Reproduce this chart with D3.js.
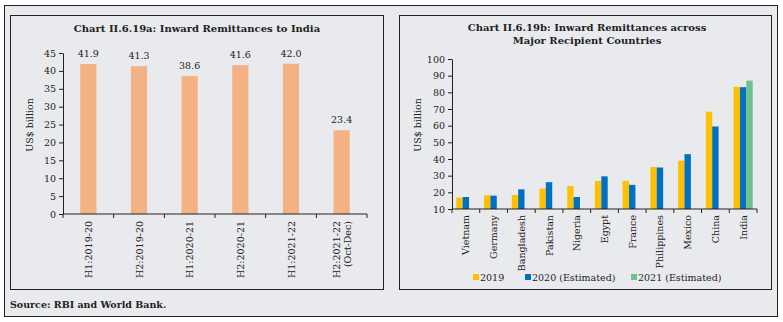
<!DOCTYPE html>
<html>
<head>
<meta charset="utf-8">
<script src="https://cdn.jsdelivr.net/npm/d3@7"></script>
<style>
  body { margin: 0; background: #fff; }
  svg { display: block; }
  text { font-family: "DejaVu Serif", "Liberation Serif", serif; fill: #222; }
</style>
</head>
<body>
<div id="chart"></div>
<script>
// left panel data
var periods = ["H1:2019-20", "H2:2019-20", "H1:2020-21", "H2:2020-21", "H1:2021-22", "H2:2021-22|(Oct-Dec)"];
var inward = [41.9, 41.3, 38.6, 41.6, 42.0, 23.4];
var leftTicks = [0, 5, 10, 15, 20, 25, 30, 35, 40, 45];

// right panel data
var countries = ["Vietnam", "Germany", "Bangladesh", "Pakistan", "Nigeria", "Egypt", "France", "Philippines", "Mexico", "China", "India"];
var seriesNames = ["2019", "2020 (Estimated)", "2021 (Estimated)"];
var v2019 = [16.9, 18.2, 18.4, 22.3, 23.8, 26.8, 26.9, 35.2, 39.0, 68.4, 83.3];
var v2020 = [17.2, 18.0, 21.8, 26.1, 17.2, 29.6, 24.5, 34.9, 42.9, 59.5, 83.1];
var v2021 = [null, null, null, null, null, null, null, null, null, null, 87.0];
var rightTicks = [10, 20, 30, 40, 50, 60, 70, 80, 90, 100];
var seriesColors = ["#ffc000", "#0070c0", "#70c08c"];

var W = 783, H = 322;
var svg = d3.select("#chart").append("svg").attr("width", W).attr("height", H);

svg.append("rect").attr("width", W).attr("height", H).attr("fill", "#fff");
svg.append("rect").attr("x", 4.5).attr("y", 5.5).attr("width", 773).attr("height", 311)
    .attr("fill", "#e9eaee").attr("stroke", "#222").attr("stroke-width", 1);
svg.append("rect").attr("x", 10.5).attr("y", 15.5).attr("width", 373).attr("height", 274)
    .attr("fill", "none").attr("stroke", "#222").attr("stroke-width", 1);
svg.append("rect").attr("x", 399.5).attr("y", 15.5).attr("width", 372).attr("height", 274)
    .attr("fill", "none").attr("stroke", "#222").attr("stroke-width", 1);

svg.append("text").text("Source: RBI and World Bank.")
    .attr("x", 10).attr("y", 308).attr("font-size", 9.5).attr("font-weight", "bold");

function styleAxis(g) {
    g.selectAll("path, line").attr("stroke", "#222");
    g.selectAll("text").attr("font-family", "DejaVu Serif, serif").attr("fill", "#333");
}

// ---- left chart ----
var L = svg.append("g");
L.append("text").text("Chart II.6.19a: Inward Remittances to India")
    .attr("x", 197).attr("y", 32).attr("text-anchor", "middle")
    .attr("font-size", 10).attr("font-weight", "bold");

var xL = d3.scaleBand().domain(periods).range([63, 367]).paddingInner(0.68).paddingOuter(0.34);
var yL = d3.scaleLinear().domain([0, 45]).range([214, 53]);

L.selectAll("rect.bar").data(inward).join("rect")
    .attr("class", "bar")
    .attr("x", (d, i) => xL(periods[i]))
    .attr("width", xL.bandwidth())
    .attr("y", d => yL(d))
    .attr("height", d => yL(0) - yL(d))
    .attr("fill", "#f4b183");

L.selectAll("text.val").data(inward).join("text")
    .attr("class", "val")
    .attr("x", (d, i) => xL(periods[i]) + xL.bandwidth() / 2)
    .attr("y", d => yL(d) - 7)
    .attr("text-anchor", "middle")
    .attr("font-size", 9.5)
    .attr("fill", "#333")
    .text(d => d.toFixed(1));

var yAxL = L.append("g").attr("transform", "translate(63,0)")
    .call(d3.axisLeft(yL).tickValues(leftTicks).tickSize(4).tickSizeOuter(0));
yAxL.selectAll("text").attr("font-size", 9.5);
styleAxis(yAxL);

var xBoundL = d3.scaleLinear().domain([0, periods.length]).range([63, 367]);
var xAxL = L.append("g").attr("transform", "translate(0,214)");
xAxL.append("line").attr("x1", 63).attr("x2", 367).attr("stroke", "#222");
xAxL.selectAll("line.tk").data(d3.range(periods.length + 1)).join("line")
    .attr("class", "tk")
    .attr("x1", d => xBoundL(d)).attr("x2", d => xBoundL(d))
    .attr("y1", 0).attr("y2", 4).attr("stroke", "#222");
periods.forEach(function (p) {
    var lines = p.split("|");
    var cx = xL(p) + xL.bandwidth() / 2;
    var t = xAxL.append("text")
        .attr("transform", "translate(" + (cx + 3.5 - (lines.length - 1) * 5.5) + ",7) rotate(-90)")
        .attr("text-anchor", "end")
        .attr("font-size", 9.5)
        .attr("fill", "#333");
    lines.forEach(function (s, k) {
        t.append("tspan").attr("x", 0).attr("dy", k === 0 ? 0 : 11).text(s);
    });
});

L.append("text").text("US$ billion")
    .attr("transform", "translate(33,125) rotate(-90)")
    .attr("text-anchor", "middle").attr("font-size", 9.5).attr("fill", "#333");

// ---- right chart ----
var R = svg.append("g");
R.append("text").text("Chart II.6.19b: Inward Remittances across")
    .attr("x", 587).attr("y", 31).attr("text-anchor", "middle")
    .attr("font-size", 10).attr("font-weight", "bold");
R.append("text").text("Major Recipient Countries")
    .attr("x", 587).attr("y", 44).attr("text-anchor", "middle")
    .attr("font-size", 10).attr("font-weight", "bold");

var xR = d3.scaleBand().domain(countries).range([452, 757]).paddingInner(0.31).paddingOuter(0.155);
var x1 = d3.scaleBand().domain(seriesNames).range([0, xR.bandwidth()]);
var yR = d3.scaleLinear().domain([10, 100]).range([209, 59]);

var allSeries = [v2019, v2020, v2021];
allSeries.forEach(function (vals, s) {
    R.selectAll("rect.s" + s).data(vals.map((v, i) => ({v: v, c: countries[i]})).filter(d => d.v != null))
        .join("rect")
        .attr("class", "s" + s)
        .attr("x", d => xR(d.c) + x1(seriesNames[s]))
        .attr("width", x1.bandwidth())
        .attr("y", d => yR(d.v))
        .attr("height", d => yR(10) - yR(d.v))
        .attr("fill", seriesColors[s]);
});

var yAxR = R.append("g").attr("transform", "translate(452,0)")
    .call(d3.axisLeft(yR).tickValues(rightTicks).tickSize(4).tickSizeOuter(0));
yAxR.selectAll("text").attr("font-size", 9.5);
styleAxis(yAxR);

var xBoundR = d3.scaleLinear().domain([0, countries.length]).range([452, 757]);
var xAxR = R.append("g").attr("transform", "translate(0,209)");
xAxR.append("line").attr("x1", 452).attr("x2", 757).attr("stroke", "#222");
xAxR.selectAll("line.tk").data(d3.range(countries.length + 1)).join("line")
    .attr("class", "tk")
    .attr("x1", d => xBoundR(d)).attr("x2", d => xBoundR(d))
    .attr("y1", 0).attr("y2", 4).attr("stroke", "#222");
xAxR.selectAll("text.lab").data(countries).join("text")
    .attr("class", "lab")
    .attr("transform", d => "translate(" + (xR(d) + xR.bandwidth() / 2 + 3.5) + ",6) rotate(-90)")
    .attr("text-anchor", "end")
    .attr("font-size", 9.5)
    .attr("fill", "#333")
    .text(d => d);

R.append("text").text("US$ billion")
    .attr("transform", "translate(421,125) rotate(-90)")
    .attr("text-anchor", "middle").attr("font-size", 9.5).attr("fill", "#333");

// legend
var legX = [473, 525, 631];
seriesNames.forEach(function (name, s) {
    R.append("rect").attr("x", legX[s]).attr("y", 274).attr("width", 6).attr("height", 6)
        .attr("fill", seriesColors[s]);
    R.append("text").text(name).attr("x", legX[s] + 7).attr("y", 281)
        .attr("font-size", 9.5).attr("fill", "#333");
});
</script>
</body>
</html>
